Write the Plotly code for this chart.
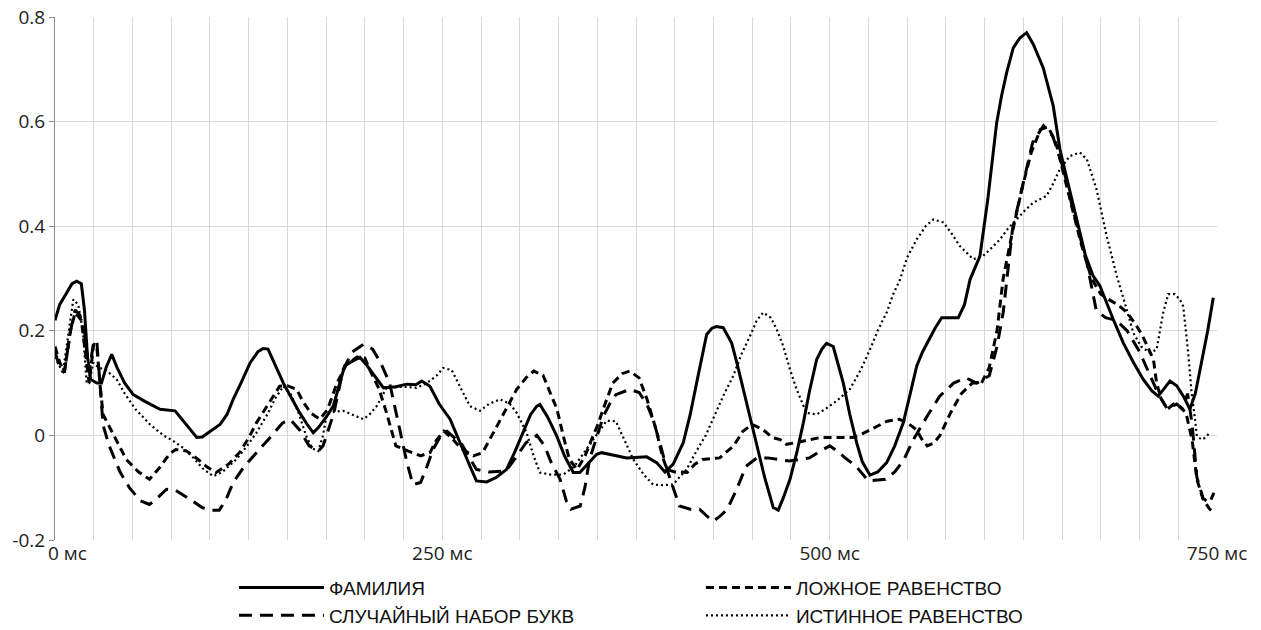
import plotly.graph_objects as go

# ---- data (time in ms, value) ----
fam_t = [0,3,7,11,14,17,19,21,23,27,30,33,36.6,40,45,50.5,58,67.8,77.5,85,91.5,95,100,106.5,111,115,120,126,131,134.4,137.5,142,147.4,152,158,163,166.7,170,175,179.6,183,187,192,196.8,201,206,212,220,227,233,236.7,242,248,255,262,268,272,278.6,285,291.5,297,302,307,311,313,318,323.8,329,334.5,338.8,344,349.6,352.8,360,369,381.9,388.3,393.7,399,405.5,410,414.1,418,420.6,424,427,431.3,436.7,440,444.2,448,452.9,458,463.6,466.8,470,474.4,479,483,487,491.6,495,498,502.3,505,508.8,513,517.4,521,526,531,536.8,542,547.5,552,556.2,560,564.7,568,572.3,583,587,590.6,597,602,607.8,611,614.2,618.5,622.8,627.1,631.4,637.8,644.3,648.6,654,659.4,665,670,674.4,683,689.5,696,702.4,708,712,716,719.6,724,728.3,732.5,736,740,744,747.6]
fam_v = [0.22,0.25,0.27,0.29,0.295,0.29,0.24,0.15,0.107,0.1,0.1,0.13,0.155,0.13,0.1,0.078,0.065,0.05,0.047,0.02,-0.004,-0.003,0.008,0.021,0.04,0.069,0.1,0.139,0.16,0.166,0.165,0.135,0.1,0.075,0.043,0.02,0.005,0.015,0.035,0.056,0.09,0.133,0.142,0.149,0.135,0.115,0.091,0.093,0.098,0.097,0.104,0.094,0.06,0.031,-0.02,-0.06,-0.087,-0.089,-0.08,-0.065,-0.03,0.005,0.04,0.056,0.059,0.035,-0.001,-0.04,-0.071,-0.071,-0.055,-0.036,-0.033,-0.038,-0.043,-0.041,-0.052,-0.07,-0.055,-0.014,0.04,0.1,0.16,0.193,0.205,0.208,0.206,0.177,0.14,0.088,0.04,-0.02,-0.08,-0.138,-0.143,-0.12,-0.084,-0.03,0.024,0.085,0.145,0.165,0.176,0.17,0.14,0.1,0.04,-0.014,-0.05,-0.076,-0.07,-0.052,-0.02,0.024,0.08,0.133,0.16,0.187,0.205,0.225,0.225,0.25,0.298,0.343,0.45,0.598,0.65,0.693,0.741,0.76,0.77,0.748,0.703,0.63,0.547,0.48,0.413,0.345,0.305,0.286,0.222,0.177,0.14,0.107,0.085,0.075,0.09,0.104,0.095,0.075,0.05,0.08,0.14,0.2,0.263]

rnd_t = [0,3,6,10,13,16,19,22,25,27,29,31,35,42,48,55,61,66,72,78,87,95,100,106,110,115,122,130,140,147,152,158,164,170,173,180,186,192,199,205,210,216,222,227,231,236,240,244,250,253,258,262,267,272,280,291,298,304,311,316,320,326,330,333,339,342,345,350,354,358,362,371,377,382,386,390,395,399,403,410,416,421,425,429,434,440,446,453,460,474,487,494,500,505,510,517,525,536,542,548,554,563,571,580,588,595,603,608,612,618,625,631,638,644,651,657,666,672,678,685,692,700,706,712,718,724,728,731,734,737,741,745,748]
rnd_v = [0.16,0.13,0.12,0.2,0.24,0.23,0.2,0.12,0.18,0.18,0.1,0.02,-0.02,-0.07,-0.1,-0.125,-0.132,-0.12,-0.103,-0.105,-0.122,-0.138,-0.143,-0.143,-0.125,-0.09,-0.06,-0.034,0.0,0.024,0.03,0.01,-0.02,-0.03,-0.02,0.043,0.126,0.16,0.174,0.165,0.14,0.1,0.02,-0.05,-0.094,-0.09,-0.06,-0.027,0.005,0.008,-0.005,-0.014,-0.04,-0.065,-0.07,-0.068,-0.04,-0.014,0.0,-0.02,-0.05,-0.084,-0.125,-0.141,-0.135,-0.1,-0.046,0.0,0.037,0.06,0.078,0.088,0.082,0.06,0.03,-0.01,-0.065,-0.1,-0.135,-0.141,-0.141,-0.155,-0.164,-0.155,-0.141,-0.103,-0.059,-0.043,-0.043,-0.049,-0.043,-0.03,-0.02,-0.03,-0.043,-0.059,-0.087,-0.084,-0.07,-0.046,-0.008,0.037,0.075,0.1,0.11,0.1,0.114,0.17,0.235,0.394,0.483,0.56,0.592,0.572,0.509,0.432,0.33,0.24,0.225,0.22,0.2,0.16,0.12,0.08,0.05,0.06,0.05,0.08,0.02,-0.08,-0.12,-0.13,-0.11]

fal_t = [0,3,6,10,13,17,20,22,25,27,29,31,38,46,54,61,68,74,78,85,92,98,104,112,119,125,130,138,145,150,156,160,165,171,176,182,188,195,200,204,209,214,220,228,236,242,246,251,256,262,270,276,282,287,293,298,304,309,315,320,324,328,332,337,342,346,350,355,360,366,371,377,382,388,392,395,400,404,408,413,418,424,429,434,438,444,450,457,463,468,472,478,483,494,505,515,521,526,532,537,545,551,556,560,563,567,571,578,585,592,598,603,608,612,618,624,630,636,641,646,651,656,662,669,675,680,686,692,698,702,706,709,711,714,718,722,726,730,734,737,741,745,748]
fal_v = [0.17,0.14,0.12,0.2,0.235,0.22,0.15,0.1,0.175,0.17,0.1,0.04,0.0,-0.046,-0.07,-0.084,-0.06,-0.035,-0.027,-0.03,-0.045,-0.06,-0.071,-0.055,-0.033,-0.005,0.024,0.06,0.094,0.095,0.088,0.065,0.043,0.031,0.05,0.1,0.135,0.15,0.148,0.12,0.09,0.043,-0.02,-0.03,-0.039,-0.033,-0.01,0.008,-0.005,-0.025,-0.039,-0.033,0.0,0.03,0.06,0.088,0.11,0.123,0.115,0.08,0.05,0.0,-0.046,-0.065,-0.04,-0.01,0.018,0.06,0.1,0.118,0.123,0.11,0.07,0.011,-0.04,-0.065,-0.07,-0.07,-0.071,-0.055,-0.046,-0.044,-0.043,-0.03,-0.02,0.008,0.021,0.011,-0.004,-0.008,-0.017,-0.014,-0.011,-0.004,-0.004,-0.004,0.003,0.011,0.02,0.027,0.031,0.022,0.011,-0.01,-0.02,-0.015,-0.001,0.043,0.08,0.1,0.1,0.13,0.2,0.3,0.39,0.47,0.54,0.585,0.59,0.56,0.5,0.44,0.37,0.3,0.27,0.26,0.25,0.235,0.21,0.19,0.165,0.145,0.1,0.07,0.05,0.06,0.055,0.043,-0.01,-0.084,-0.122,-0.14,-0.148]

tru_t = [0,3,5,8,11.8,15,18,20.4,22,24.7,28,33,39.8,45,52,61.3,70,76,82.8,90,96,102.2,108,117,124,130,137,142,147.4,152,157,162,166,170,173,175.3,180,186,192,199,203,207.6,214,225,233.3,240,246.2,250.6,256,262,267.8,274.3,280,287.2,293.7,298,304.4,309,313,320,328,335,342,349,356,362,368,373.3,380,386,392,399,403,407.7,414,420,426,432,437.8,443,448.6,453,457.1,462,465.8,470,474.4,478.7,485,491.6,498,504.5,513,520,526,531,536.8,541,545.4,550,556.2,562,567,573.4,579,584,592.6,599,605,610,615,620.6,626,631.4,640,644,648.6,655,661.5,666,672.3,678.8,685.3,691.7,696,701,706.7,711,713,715.3,718.5,722.8,726,728.2,731.4,733.6,735.8,737,740,742,745.4]
tru_v = [0.15,0.13,0.12,0.18,0.26,0.25,0.2,0.1,0.1,0.139,0.13,0.125,0.107,0.08,0.05,0.021,0.0,-0.01,-0.024,-0.045,-0.065,-0.078,-0.07,-0.046,-0.02,0.005,0.04,0.07,0.094,0.08,0.045,0.0,-0.025,-0.03,0.0,0.04,0.045,0.047,0.04,0.031,0.04,0.056,0.091,0.093,0.091,0.1,0.114,0.129,0.125,0.09,0.056,0.047,0.06,0.069,0.06,0.043,0.005,-0.04,-0.071,-0.075,-0.075,-0.06,-0.03,0.0,0.028,0.027,-0.01,-0.046,-0.075,-0.094,-0.095,-0.094,-0.08,-0.065,-0.03,0.0,0.04,0.08,0.114,0.155,0.19,0.22,0.235,0.225,0.203,0.171,0.126,0.088,0.043,0.04,0.052,0.066,0.088,0.125,0.164,0.2,0.235,0.27,0.298,0.34,0.375,0.4,0.413,0.407,0.385,0.362,0.337,0.343,0.36,0.375,0.395,0.413,0.43,0.445,0.458,0.48,0.509,0.534,0.541,0.528,0.47,0.381,0.305,0.241,0.196,0.17,0.158,0.164,0.2,0.235,0.27,0.27,0.26,0.247,0.158,0.082,0.031,-0.001,-0.008,-0.005,0.005]

names = ["ФАМИЛИЯ", "ЛОЖНОЕ РАВЕНСТВО", "СЛУЧАЙНЫЙ НАБОР БУКВ", "ИСТИННОЕ РАВЕНСТВО"]

x_tickvals = list(range(0, 751, 25))
x_first_label = "0 мс"
x_ticktext = ["" if v == 0 else f"{v} мс" if v % 250 == 0 else "" for v in x_tickvals]
y_tickvals = [-0.2, 0, 0.2, 0.4, 0.6, 0.8]
y_ticktext = ["-0.2", "0", "0.2", "0.4", "0.6", "0.8"]

TICKFONT = "Open Sans, sans-serif"
LEGFONT = "Liberation Sans, Arial, sans-serif"

fig = go.Figure()
fig.add_trace(go.Scatter(x=fam_t, y=fam_v, mode="lines", name=names[0],
                         line=dict(color="black", width=3)))
fig.add_trace(go.Scatter(x=fal_t, y=fal_v, mode="lines", name=names[1],
                         line=dict(color="black", width=3, dash="8px,5px")))
fig.add_trace(go.Scatter(x=rnd_t, y=rnd_v, mode="lines", name=names[2],
                         line=dict(color="black", width=3, dash="13px,8px")))
fig.add_trace(go.Scatter(x=tru_t, y=tru_v, mode="lines", name=names[3],
                         line=dict(color="black", width=2.2, dash="2px,3px")))

# first x tick label, left-aligned at the origin as in the reference
fig.add_annotation(x=x_tickvals[0], y=0, xref="x", yref="paper", text=x_first_label,
                   showarrow=False, xanchor="left", yanchor="top", xshift=-9, yshift=2,
                   font=dict(family=TICKFONT, size=19, color="#222"))

fig.update_layout(
    width=1261, height=630,
    margin=dict(l=55, r=44, t=17, b=90, autoexpand=False),
    paper_bgcolor="white", plot_bgcolor="white",
    font=dict(family=LEGFONT, color="#222", size=19),
    showlegend=True,
    legend=dict(orientation="h", x=0.154, xanchor="left", y=-0.055, yanchor="top",
                entrywidth=367, entrywidthmode="pixels", itemwidth=85,
                font=dict(family=LEGFONT, size=19, color="#111"),
                bgcolor="rgba(0,0,0,0)"),
    xaxis=dict(range=[0, 750], tickvals=x_tickvals, ticktext=x_ticktext,
               showgrid=True, gridcolor="#d9d9d9", gridwidth=1,
               zeroline=False, showline=False, ticks="", ticklabelstandoff=0,
               ticklabeloverflow="allow",
               tickfont=dict(family=TICKFONT, size=19, color="#222")),
    yaxis=dict(range=[-0.2, 0.8], tickvals=y_tickvals, ticktext=y_ticktext,
               showgrid=True, gridcolor="#d9d9d9", gridwidth=1,
               zeroline=False, showline=True, linecolor="#8c8c8c", linewidth=1,
               ticks="outside", ticklen=5, tickcolor="#8c8c8c",
               ticklabeloverflow="allow",
               tickfont=dict(family=TICKFONT, size=19, color="#222")),
)

fig.write_html("out.html", config={"displayModeBar": False},
               post_script="document.body.style.margin='0';document.body.style.overflow='hidden';")
